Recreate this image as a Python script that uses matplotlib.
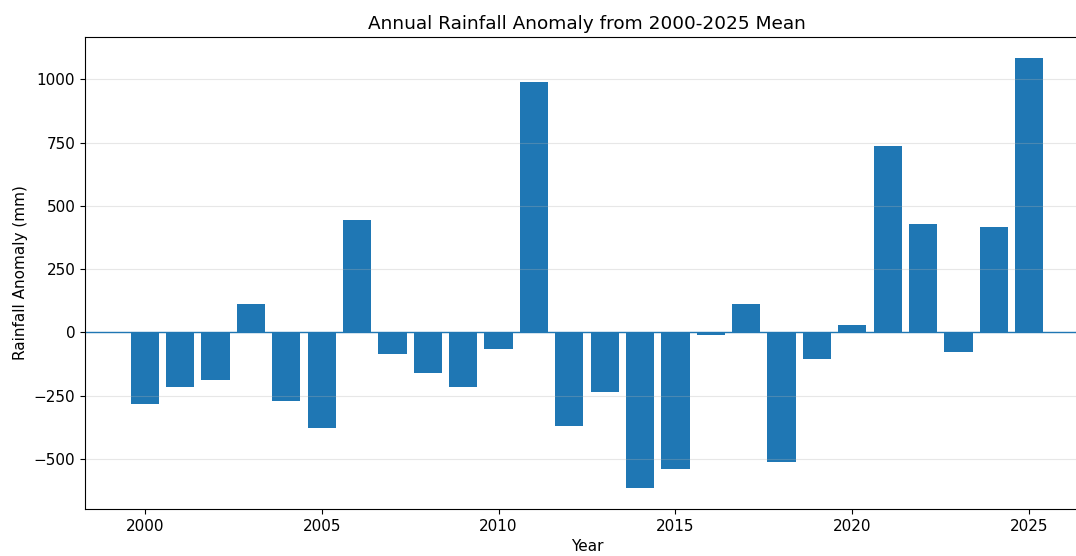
import matplotlib
matplotlib.use("Agg")
import matplotlib.pyplot as plt

# --- Data ---
years = list(range(2000, 2026))
anomaly = [-281, -214, -186, 111, -269, -379, 443, -87, -162, -217,
           -67, 988, -368, -237, -613, -541, -12, 111, -514, -103,
           28, 735, 427, -79, 415, 1083]

# --- Plot setup ---
fig = plt.figure(figsize=(10.76, 5.56), dpi=100)
# axes run a little past the right edge of the image, like the reference
ax = fig.add_axes([85 / 1076, 47 / 556, (1089 - 85) / 1076, (509 - 37) / 556])

ax.bar(years, anomaly, width=0.8, color="#1f77b4")
ax.axhline(0, color="#1f77b4", linewidth=1)

ax.grid(axis="y", alpha=0.3)
ax.set_yticks([-500, -250, 0, 250, 500, 750, 1000])
ax.tick_params(labelsize=11)

ax.set_title("Annual Rainfall Anomaly from 2000-2025 Mean", fontsize=13.3)
ax.set_xlabel("Year", fontsize=11)
ax.set_ylabel("Rainfall Anomaly (mm)", fontsize=11)

fig.savefig("out.png", dpi=100)
